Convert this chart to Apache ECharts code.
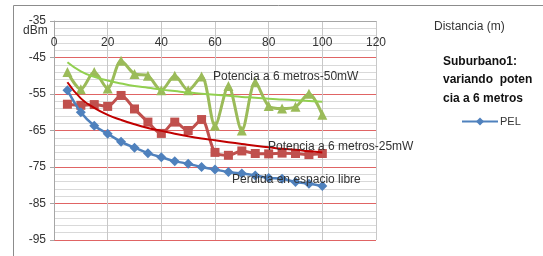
<!DOCTYPE html>
<html><head><meta charset="utf-8">
<script src="https://cdn.jsdelivr.net/npm/echarts@6/dist/echarts.min.js"></script>
<style>html,body{margin:0;padding:0;background:#fff}#c{width:543px;height:256px}</style>
</head><body><div id="c"></div>
<script>
const distances = [5,10,15,20,25,30,35,40,45,50,55,60,65,70,75,80,85,90,95,100];
const pel = [-54.0,-60.0,-63.7,-65.9,-68.1,-69.7,-71.2,-72.3,-73.4,-74.1,-75.0,-75.7,-76.4,-76.8,-77.3,-78.0,-78.2,-79.1,-79.6,-80.2];
const pot25 = [-57.8,-58.1,-57.9,-58.4,-55.4,-59.1,-62.7,-65.8,-62.7,-65.0,-62.0,-71.0,-71.8,-70.6,-71.3,-71.4,-71.2,-71.3,-71.6,-71.3];
const pot50 = [-49.0,-53.7,-49.0,-53.5,-45.9,-49.5,-50.0,-54.0,-50.0,-54.0,-50.2,-63.7,-52.8,-65.0,-51.8,-58.3,-59.0,-58.5,-54.9,-60.7];
const trend25 = [-51.8,-56.2,-58.8,-60.7,-62.1,-63.3,-64.3,-65.1,-65.9,-66.6,-67.2,-67.7,-68.2,-68.7,-69.2,-69.6,-70.0,-70.3,-70.7,-71.0];
const trend50 = [-46.3,-48.8,-50.3,-51.3,-52.1,-52.8,-53.3,-53.8,-54.2,-54.6,-54.9,-55.2,-55.5,-55.8,-56.0,-56.3,-56.5,-56.7,-56.9,-57.1];
const xTicks = [0,20,40,60,80,100,120];
const yTicks = [-95,-85,-75,-65,-55,-45,-35];

const pair = arr => distances.map((d,i)=>[d,arr[i]]);
const FONT = 'Liberation Sans';
const chart = echarts.init(document.getElementById('c'), null, {renderer:'canvas'});
chart.setOption({
  animation:false,
  textStyle:{fontFamily:FONT},
  grid:{left:54,right:167,top:21,bottom:16,containLabel:false},
  xAxis:{type:'value',position:'top',min:xTicks[0],max:xTicks[xTicks.length-1],interval:20,
    axisLine:{show:true,lineStyle:{color:'#a6a6a6',width:1}},
    axisTick:{show:false},
    axisLabel:{inside:true,margin:16,color:'#333',fontSize:12,fontFamily:FONT},
    splitLine:{show:true,lineStyle:{color:'#c8c8c8',width:1}}},
  yAxis:{type:'value',min:yTicks[0],max:yTicks[yTicks.length-1],interval:10,
    axisLine:{show:true,lineStyle:{color:'#a6a6a6',width:1}},
    axisTick:{show:true,length:4,lineStyle:{color:'#a6a6a6'}},
    axisLabel:{color:'#333',fontSize:12,margin:8,fontFamily:FONT},
    splitLine:{show:true,lineStyle:{color:'#e06464',width:1}},
    minorTick:{show:false,splitNumber:5},
    minorSplitLine:{show:true,lineStyle:{color:'#d9d9d9',width:1}}},
  legend:{show:true,data:['PEL'],left:456,top:111,itemWidth:36,itemHeight:10,itemGap:2,
    textStyle:{fontSize:11,color:'#333',fontFamily:FONT,padding:[0,0,0,-3]}},
  series:[
    {name:'trend50',type:'line',data:pair(trend50),smooth:true,showSymbol:false,symbol:'none',
      lineStyle:{color:'#92d050',width:2},z:3},
    {name:'trend25',type:'line',data:pair(trend25),smooth:true,showSymbol:false,symbol:'none',
      lineStyle:{color:'#c00000',width:2},z:3},
    {name:'50mW',type:'line',data:pair(pot50),smooth:0.3,symbol:'triangle',symbolSize:10,
      itemStyle:{color:'#9bbb59'},lineStyle:{color:'#9bbb59',width:3},z:2},
    {name:'25mW',type:'line',data:pair(pot25),smooth:0.3,symbol:'rect',symbolSize:9,
      itemStyle:{color:'#c0504d'},lineStyle:{color:'#c0504d',width:3},z:2},
    {name:'PEL',type:'line',data:pair(pel),smooth:0.3,symbol:'diamond',symbolSize:10,
      itemStyle:{color:'#4f81bd'},lineStyle:{color:'#4f81bd',width:2.5},z:4}
  ],
  graphic:[
    {type:'rect',shape:{x:13.5,y:5.5,width:600,height:300},style:{fill:'none',stroke:'#8c8c8c',lineWidth:1},z:-10,silent:true},
    {type:'text',left:23,top:25,style:{text:'dBm',fontSize:12,fill:'#333',fontFamily:FONT}},
    {type:'text',left:434,top:21,style:{text:'Distancia (m)',fontSize:12,fill:'#333',fontFamily:FONT}},
    {type:'text',left:443,top:52,style:{text:'Suburbano1:\nvariando  poten\ncia a 6 metros',fontSize:12,fontWeight:'bold',lineHeight:18.5,fill:'#111',fontFamily:FONT}},
    {type:'text',left:213,top:71,z:50,style:{text:'Potencia a 6 metros-50mW',fontSize:12,fill:'#333',fontFamily:FONT}},
    {type:'text',left:268,top:141,z:50,style:{text:'Potencia a 6 metros-25mW',fontSize:12,fill:'#333',fontFamily:FONT}},
    {type:'text',left:232,top:174,z:50,style:{text:'Perdida en espacio libre',fontSize:12,fill:'#333',fontFamily:FONT}}
  ]
});
</script></body></html>
